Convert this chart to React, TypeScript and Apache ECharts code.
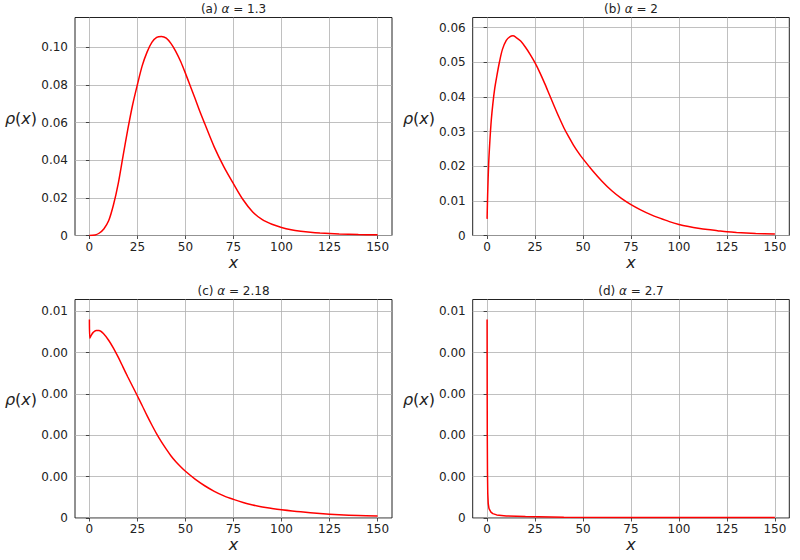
import React, { useEffect, useRef } from "react";
import * as echarts from "echarts";

// ---------- data ----------
const panelLetters = ["a", "b", "c", "d"];
const alphas = ["1.3", "2", "2.18", "2.7"];

const xTicks = [0, 25, 50, 75, 100, 125, 150];
const xMin = -7.5;
const xMax = 157.5;

const yTicksA = [0, 0.02, 0.04, 0.06, 0.08, 0.1];
const yLabelsA = ["0", "0.02", "0.04", "0.06", "0.08", "0.10"];
const yTicksB = [0, 0.01, 0.02, 0.03, 0.04, 0.05, 0.06];
const yLabelsB = ["0", "0.01", "0.02", "0.03", "0.04", "0.05", "0.06"];
const yTicksCD = [0, 0.002, 0.004, 0.006, 0.008, 0.01];
const yLabelsCD = ["0", "0.00", "0.00", "0.00", "0.00", "0.01"];
const yMaxes = [0.1159, 0.0629, 0.01057, 0.01057];

const xA = [0, 3, 5, 7.5, 10, 12.5, 15, 17.5, 20, 22.5, 25, 27.5, 30, 32.5, 35, 37.5, 40, 42.5, 45, 47.5, 50, 52.5, 55, 57.5, 60, 65, 70, 75, 80, 85, 90, 95, 100, 105, 110, 115, 120, 130, 140, 150];
const yA = [0, 0.0003, 0.0012, 0.0035, 0.0078, 0.0162, 0.0276, 0.0422, 0.0565, 0.0695, 0.0803, 0.0903, 0.0975, 0.1027, 0.1053, 0.1058, 0.1049, 0.102, 0.0978, 0.0925, 0.0862, 0.0795, 0.0728, 0.0659, 0.0595, 0.047, 0.0365, 0.0275, 0.019, 0.0125, 0.0084, 0.006, 0.0043, 0.0031, 0.0023, 0.0017, 0.0013, 0.0008, 0.0005, 0.0004];

const xB = [0, 0.3, 0.8, 1.4, 2.2, 3, 4, 5, 6.5, 8, 10, 12, 13.5, 15, 17.5, 20, 22.5, 25, 27.5, 30, 32.5, 35, 37.5, 40, 42.5, 45, 47.5, 50, 55, 60, 65, 70, 75, 80, 85, 90, 95, 100, 105, 110, 115, 120, 125, 130, 140, 150];
const yB = [0.0048, 0.012, 0.0205, 0.0268, 0.0334, 0.038, 0.0425, 0.0458, 0.0502, 0.0537, 0.0563, 0.0574, 0.0576, 0.0572, 0.0561, 0.0543, 0.0522, 0.0498, 0.047, 0.0439, 0.0406, 0.0373, 0.0341, 0.0311, 0.0285, 0.0261, 0.024, 0.0221, 0.0187, 0.0156, 0.0129, 0.0107, 0.0089, 0.0074, 0.0061, 0.005, 0.004, 0.0032, 0.0026, 0.0021, 0.0017, 0.0014, 0.0011, 0.0009, 0.0006, 0.0004];

const xC = [0, 0.2, 1, 2, 3.5, 5, 7.5, 10, 12.5, 15, 17.5, 20, 22.5, 25, 27.5, 30, 32.5, 35, 37.5, 40, 42.5, 45, 47.5, 50, 55, 60, 65, 70, 75, 80, 85, 90, 95, 100, 110, 120, 130, 140, 150];
const yC = [0.0096, 0.0087, 0.00885, 0.00898, 0.00907, 0.00907, 0.0089, 0.0086, 0.00822, 0.00778, 0.0073, 0.00682, 0.00636, 0.0059, 0.00543, 0.00495, 0.0045, 0.00407, 0.00368, 0.00333, 0.003, 0.00272, 0.00248, 0.00226, 0.00188, 0.00156, 0.00129, 0.00107, 0.0009, 0.00075, 0.00063, 0.00053, 0.00046, 0.0004, 0.0003, 0.00022, 0.00016, 0.00012, 0.0001];

const xD = [0, 0.05, 0.1, 0.2, 0.35, 0.6, 1, 2, 3, 5, 10, 20, 40, 75, 110, 150];
const yD = [0.0096, 0.006, 0.004, 0.0022, 0.0012, 0.0007, 0.00045, 0.00028, 0.00021, 0.00015, 0.0001, 0.00007, 0.00004, 0.00003, 0.00002, 0.00002];

const seriesX = [xA, xB, xC, xD];
const seriesY = [yA, yB, yC, yD];
const yTicks = [yTicksA, yTicksB, yTicksCD, yTicksCD];
const yLabels = [yLabelsA, yLabelsB, yLabelsCD, yLabelsCD];

// ---------- layout ----------
const grids = [
  { left: 75, top: 17.5, width: 317, height: 218 },
  { left: 472.7, top: 17.5, width: 316.6, height: 218 },
  { left: 75, top: 299.5, width: 317, height: 218.5 },
  { left: 472.7, top: 299.5, width: 316.6, height: 218.5 },
];
const titlePos = [
  [233.5, 9],
  [631, 9],
  [233.5, 291],
  [631, 291],
];
const yLabelPos = [
  [21, 118],
  [419, 118],
  [21, 399],
  [419, 399],
];
const xLabelPos = [
  [233.5, 262],
  [631, 262],
  [233.5, 544],
  [631, 544],
];
const smoothing = [0.3, 0.3, 0.3, 0];

const FONT = "DejaVu Sans";
const TEXT = "#222";

export default function App() {
  const ref = useRef<HTMLDivElement>(null);
  useEffect(() => {
    document.body.style.margin = "0";
    if (!ref.current) return;
    const chart = echarts.init(ref.current, undefined, { renderer: "svg" });

    const xAxis = grids.map((_, i) => ({
      type: "value",
      gridIndex: i,
      min: xMin,
      max: xMax,
      axisLine: { show: false },
      axisTick: {
        show: true,
        length: 3.5,
        customValues: xTicks,
        lineStyle: { color: TEXT, width: 0.8 },
      },
      axisLabel: {
        customValues: xTicks,
        margin: 5,
        fontSize: 12,
        fontFamily: FONT,
        color: TEXT,
        formatter: (v: number) => String(Math.round(v)),
      },
      splitLine: { show: true, lineStyle: { color: "#b0b0b0", width: 0.8 } },
    }));

    const yAxis = grids.map((_, i) => ({
      type: "value",
      gridIndex: i,
      min: 0,
      max: yMaxes[i],
      axisLine: { show: false },
      axisTick: {
        show: true,
        length: 3.5,
        customValues: yTicks[i],
        lineStyle: { color: TEXT, width: 0.8 },
      },
      axisLabel: {
        customValues: yTicks[i],
        margin: 7,
        fontSize: 12,
        fontFamily: FONT,
        color: TEXT,
        formatter: (v: number) => {
          const k = yTicks[i].findIndex((t) => Math.abs(t - v) < 1e-9);
          return k >= 0 ? yLabels[i][k] : "";
        },
      },
      splitLine: { show: true, lineStyle: { color: "#b0b0b0", width: 0.8 } },
    }));

    const series = seriesX.map((xs, i) => ({
      type: "line",
      xAxisIndex: i,
      yAxisIndex: i,
      data: xs.map((x, j) => [x, seriesY[i][j]]),
      showSymbol: false,
      symbol: "none",
      smooth: smoothing[i] > 0 ? smoothing[i] : false,
      lineStyle: { color: "#ff0000", width: 1.5 },
      clip: true,
    }));

    const italic = { fontStyle: "italic", fontFamily: FONT };
    const graphic: any[] = [];
    grids.forEach((_, i) => {
      graphic.push({
        type: "text",
        x: titlePos[i][0],
        y: titlePos[i][1],
        style: {
          text: `(${panelLetters[i]}) {i|α} = ${alphas[i]}`,
          fontSize: 12,
          fontFamily: FONT,
          fill: TEXT,
          align: "center",
          verticalAlign: "middle",
          textAlign: "center",
          textVerticalAlign: "middle",
          rich: { i: { ...italic, fontSize: 12, fill: TEXT } },
        },
      });
      graphic.push({
        type: "text",
        x: yLabelPos[i][0],
        y: yLabelPos[i][1],
        style: {
          text: "{i|ρ}({i|x})",
          fontSize: 16,
          fontFamily: FONT,
          fill: TEXT,
          align: "center",
          verticalAlign: "middle",
          textAlign: "center",
          textVerticalAlign: "middle",
          rich: { i: { ...italic, fontSize: 16, fill: TEXT } },
        },
      });
      graphic.push({
        type: "text",
        x: xLabelPos[i][0],
        y: xLabelPos[i][1],
        style: {
          text: "x",
          fontSize: 16,
          fontStyle: "italic",
          fontFamily: FONT,
          fill: TEXT,
          align: "center",
          verticalAlign: "middle",
          textAlign: "center",
          textVerticalAlign: "middle",
        },
      });
    });

    chart.setOption({
      animation: false,
      backgroundColor: "#ffffff",
      grid: grids.map((g) => ({
        ...g,
        show: true,
        borderColor: TEXT,
        borderWidth: 1,
        backgroundColor: "transparent",
        containLabel: false,
      })),
      xAxis,
      yAxis,
      series,
      graphic,
    });

    return () => chart.dispose();
  }, []);

  return <div ref={ref} style={{ width: 800, height: 560 }} />;
}
